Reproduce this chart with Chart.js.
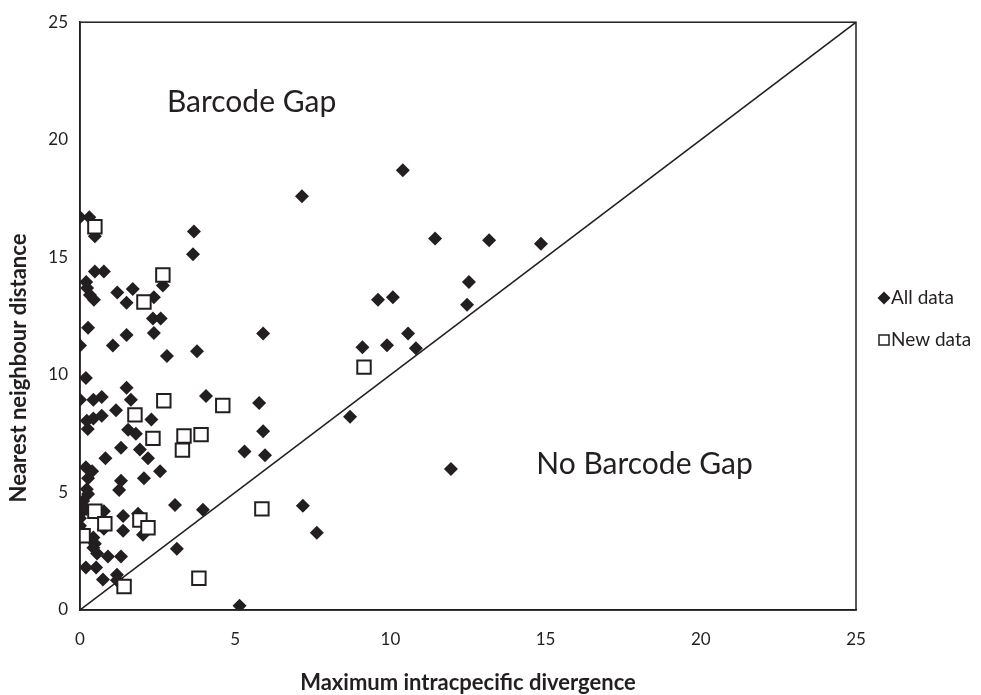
<!DOCTYPE html>
<html>
<head>
<meta charset="utf-8">
<script src="https://cdn.jsdelivr.net/npm/chart.js@4.4.1/dist/chart.umd.min.js"></script>
<style>
html,body{margin:0;padding:0;background:#fff;}
#wrap{width:981px;height:695px;position:relative;}
</style>
</head>
<body>
<div id="wrap"><canvas id="c" width="981" height="695"></canvas></div>
<script>
const xTicks = [0, 5, 10, 15, 20, 25];
const yTicks = [0, 5, 10, 15, 20, 25];

const allX = [0,0.3,0.48,0.48,0.77,0.2,0.23,0.32,0.45,1.2,1.7,1.5,2.38,2.67,2.35,2.6,2.38,0.26,1.5,1.06,0,3.67,3.64,2.8,3.77,0.19,1.5,
  7.15,9.6,5.9,9.1,10.4,11.44,13.18,14.85,10.08,12.53,12.47,9.89,10.57,10.82,8.7,
  4.06,5.77,5.9,5.3,5.96,3.96,7.18,7.63,3.12,5.14,11.95,
  0,0.43,0.7,1.64,1.16,0.22,0.43,0.7,0.25,2.3,1.55,1.8,1.32,1.93,2.19,0.82,2.58,0.19,0.39,0.26,2.06,1.32,1.26,0.22,0.26,0.1,0.03,0,3.06,0.77,1.39,1.87,2.03,0.77,1.39,0,0,0.43,0.48,0.43,0.55,0.9,1.32,0.19,0.52,0.74,1.19,1.19,1.35,0.2,0.1];
const allY = [16.7,16.7,15.9,14.4,14.4,13.95,13.7,13.4,13.2,13.5,13.65,13.07,13.3,13.8,12.4,12.4,11.78,12.0,11.7,11.25,11.25,16.1,15.13,10.8,11.0,9.87,9.45,
  17.6,13.2,11.76,11.17,18.7,15.8,15.73,15.58,13.3,13.95,12.98,11.26,11.76,11.13,8.22,
  9.1,8.8,7.6,6.74,6.58,4.26,4.43,3.29,2.6,0.18,6.0,
  8.94,8.94,9.06,8.94,8.5,8.05,8.14,8.26,7.7,8.1,7.67,7.5,6.9,6.83,6.45,6.45,5.9,6.07,5.9,5.6,5.6,5.5,5.1,5.14,4.93,4.64,4.38,4.09,4.47,4.2,4.0,4.09,3.2,3.46,3.37,3.9,3.58,3.08,2.82,2.65,2.4,2.28,2.28,1.81,1.81,1.3,1.5,1.27,1.1,4.3,3.3];

const newX = [0.48,2.06,2.67,9.15,2.7,4.6,1.77,2.35,3.35,3.3,3.9,5.86,0.48,1.93,0.8,2.19,0.1,1.42,3.83];
const newY = [16.3,13.1,14.25,10.33,8.9,8.7,8.3,7.3,7.4,6.8,7.46,4.3,4.2,3.83,3.67,3.5,3.16,1.0,1.35];

const lineX = [0, 25];
const lineY = [0, 25];

const seriesNames = ['All data', 'New data'];
const annotations = [
  {text: 'Barcode Gap', x: 2.8, y: 21.6},
  {text: 'No Barcode Gap', x: 14.7, y: 6.2}
];
const xTitle = 'Maximum intracpecific divergence';
const yTitle = 'Nearest neighbour distance';

const INK = '#231f20';
const FONT = 'Lato, "Open Sans", sans-serif';

function pts(xs, ys){ return xs.map((x,i)=>({x:x, y:ys[i]})); }

const frame = {
  id: 'frame',
  afterDatasetsDraw(chart){
    const {ctx, chartArea:a, scales} = chart;
    ctx.save();
    ctx.strokeStyle = INK;
    ctx.lineWidth = 1.5;
    ctx.strokeRect(a.left, a.top, a.right - a.left, a.bottom - a.top);
    ctx.fillStyle = INK;
    ctx.font = '30px ' + FONT;
    ctx.textBaseline = 'middle';
    ctx.textAlign = 'left';
    annotations.forEach(an=>{
      ctx.fillText(an.text, scales.x.getPixelForValue(an.x), scales.y.getPixelForValue(an.y));
    });
    // axis titles
    ctx.font = 'bold 22px ' + FONT;
    ctx.textAlign = 'center';
    ctx.fillText(xTitle, (a.left + a.right) / 2, 683);
    ctx.save();
    ctx.translate(19, 368);
    ctx.rotate(-Math.PI / 2);
    ctx.fillText(yTitle, 0, 0);
    ctx.restore();
    // legend
    ctx.textAlign = 'left';
    const lx = a.right + 28, ly1 = 298, ly2 = 340;
    ctx.beginPath();
    ctx.moveTo(lx, ly1 - 6.5); ctx.lineTo(lx + 6.5, ly1); ctx.lineTo(lx, ly1 + 6.5); ctx.lineTo(lx - 6.5, ly1); ctx.closePath();
    ctx.fill();
    ctx.lineWidth = 1.5;
    ctx.strokeRect(lx - 5, ly2 - 5, 10, 10);
    ctx.font = '19px ' + FONT;
    ctx.fillText(seriesNames[0], lx + 7, ly1);
    ctx.fillText(seriesNames[1], lx + 7, ly2);
    ctx.restore();
  }
};

new Chart(document.getElementById('c'), {
  type: 'scatter',
  data: {
    datasets: [
      {label: 'diag', data: pts(lineX, lineY), showLine: true, borderColor: INK, borderWidth: 1.5, pointRadius: 0, fill: false, order: 3},
      {label: seriesNames[0], data: pts(allX, allY), pointStyle: 'rectRot', pointRadius: 7, pointHoverRadius: 7, backgroundColor: INK, borderColor: INK, borderWidth: 0, order: 2},
      {label: seriesNames[1], data: pts(newX, newY), pointStyle: 'rect', pointRadius: 9.5, pointHoverRadius: 9.5, backgroundColor: '#ffffff', borderColor: INK, borderWidth: 2, order: 1}
    ]
  },
  options: {
    responsive: false,
    animation: false,
    devicePixelRatio: 1,
    layout: {padding: {top: 17, right: 125, left: 0, bottom: 0}},
    plugins: {legend: {display: false}, tooltip: {enabled: false}},
    scales: {
      x: {
        type: 'linear', min: 0, max: 25,
        afterBuildTicks: s => { s.ticks = xTicks.map(v=>({value:v})); },
        afterFit: s => { s.height = 85; },
        grid: {display: false, drawTicks: false},
        border: {display: true, color: INK, width: 1.5},
        ticks: {color: INK, font: {family: FONT, size: 17}, padding: 19, maxRotation: 0},
        title: {display: false}
      },
      y: {
        type: 'linear', min: 0, max: 25,
        afterBuildTicks: s => { s.ticks = yTicks.map(v=>({value:v})); },
        afterFit: s => { s.width = 80; },
        grid: {display: false, drawTicks: false},
        border: {display: true, color: INK, width: 1.5},
        ticks: {color: INK, font: {family: FONT, size: 17}, padding: 12},
        title: {display: false}
      }
    }
  },
  plugins: [frame]
});
</script>
</body>
</html>
